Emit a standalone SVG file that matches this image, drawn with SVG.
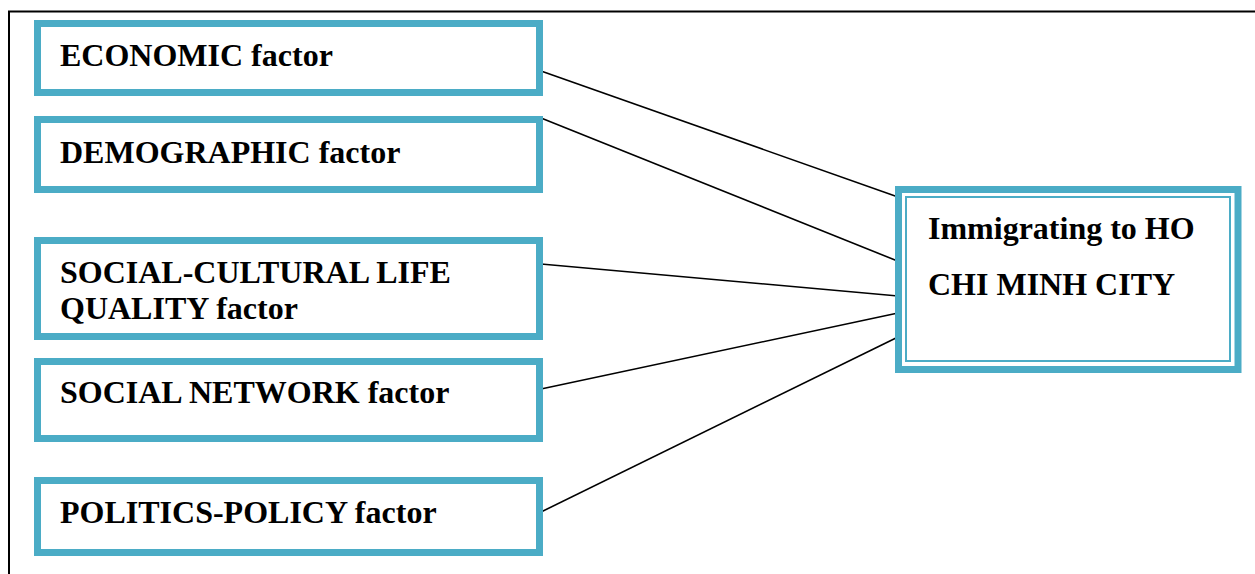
<svg xmlns="http://www.w3.org/2000/svg" width="1255" height="574" viewBox="0 0 1255 574">
<style>
.box{fill:#ffffff;stroke:#4BACC6;stroke-width:7}
.thin{fill:none;stroke:#4BACC6;stroke-width:2}
.t{font-family:"Liberation Serif","Times New Roman",serif;font-weight:bold;font-size:32px;fill:#000000}
.c{stroke:#000000;stroke-width:1.6;fill:none}
.frame{stroke:#000000;stroke-width:2;fill:none}
</style>
<rect x="0" y="0" width="1255" height="574" fill="#ffffff"/>
<path class="frame" d="M9,574 V11.5 H1255"/>
<g id="connectors">
<line class="c" x1="541" y1="71" x2="898" y2="197"/>
<line class="c" x1="541" y1="118" x2="900" y2="262"/>
<line class="c" x1="541" y1="264" x2="898" y2="296"/>
<line class="c" x1="541" y1="389" x2="898" y2="313"/>
<line class="c" x1="541" y1="512" x2="898" y2="337"/>
</g>
<g id="economic">
<rect class="box" x="37.5" y="23.5" width="502" height="69"/>
<text class="t" x="60" y="66">ECONOMIC factor</text>
</g>
<g id="demographic">
<rect class="box" x="37.5" y="119.5" width="502" height="70"/>
<text class="t" x="60" y="163">DEMOGRAPHIC factor</text>
</g>
<g id="social-cultural">
<rect class="box" x="37.5" y="240.5" width="502" height="96"/>
<text class="t" x="60" y="283">SOCIAL-CULTURAL LIFE</text>
<text class="t" x="60" y="319">QUALITY factor</text>
</g>
<g id="social-network">
<rect class="box" x="37.5" y="361.5" width="502" height="77"/>
<text class="t" x="60" y="403">SOCIAL NETWORK factor</text>
</g>
<g id="politics-policy">
<rect class="box" x="37.5" y="480.5" width="502" height="72"/>
<text class="t" x="60" y="523">POLITICS-POLICY factor</text>
</g>
<g id="hcmc">
<rect class="box" x="898.5" y="189.5" width="339.5" height="180" stroke-width="8"/>
<rect class="thin" x="906" y="197" width="324" height="164"/>
<text class="t" x="928" y="239">Immigrating to HO</text>
<text class="t" x="928" y="295">CHI MINH CITY</text>
</g>
</svg>
